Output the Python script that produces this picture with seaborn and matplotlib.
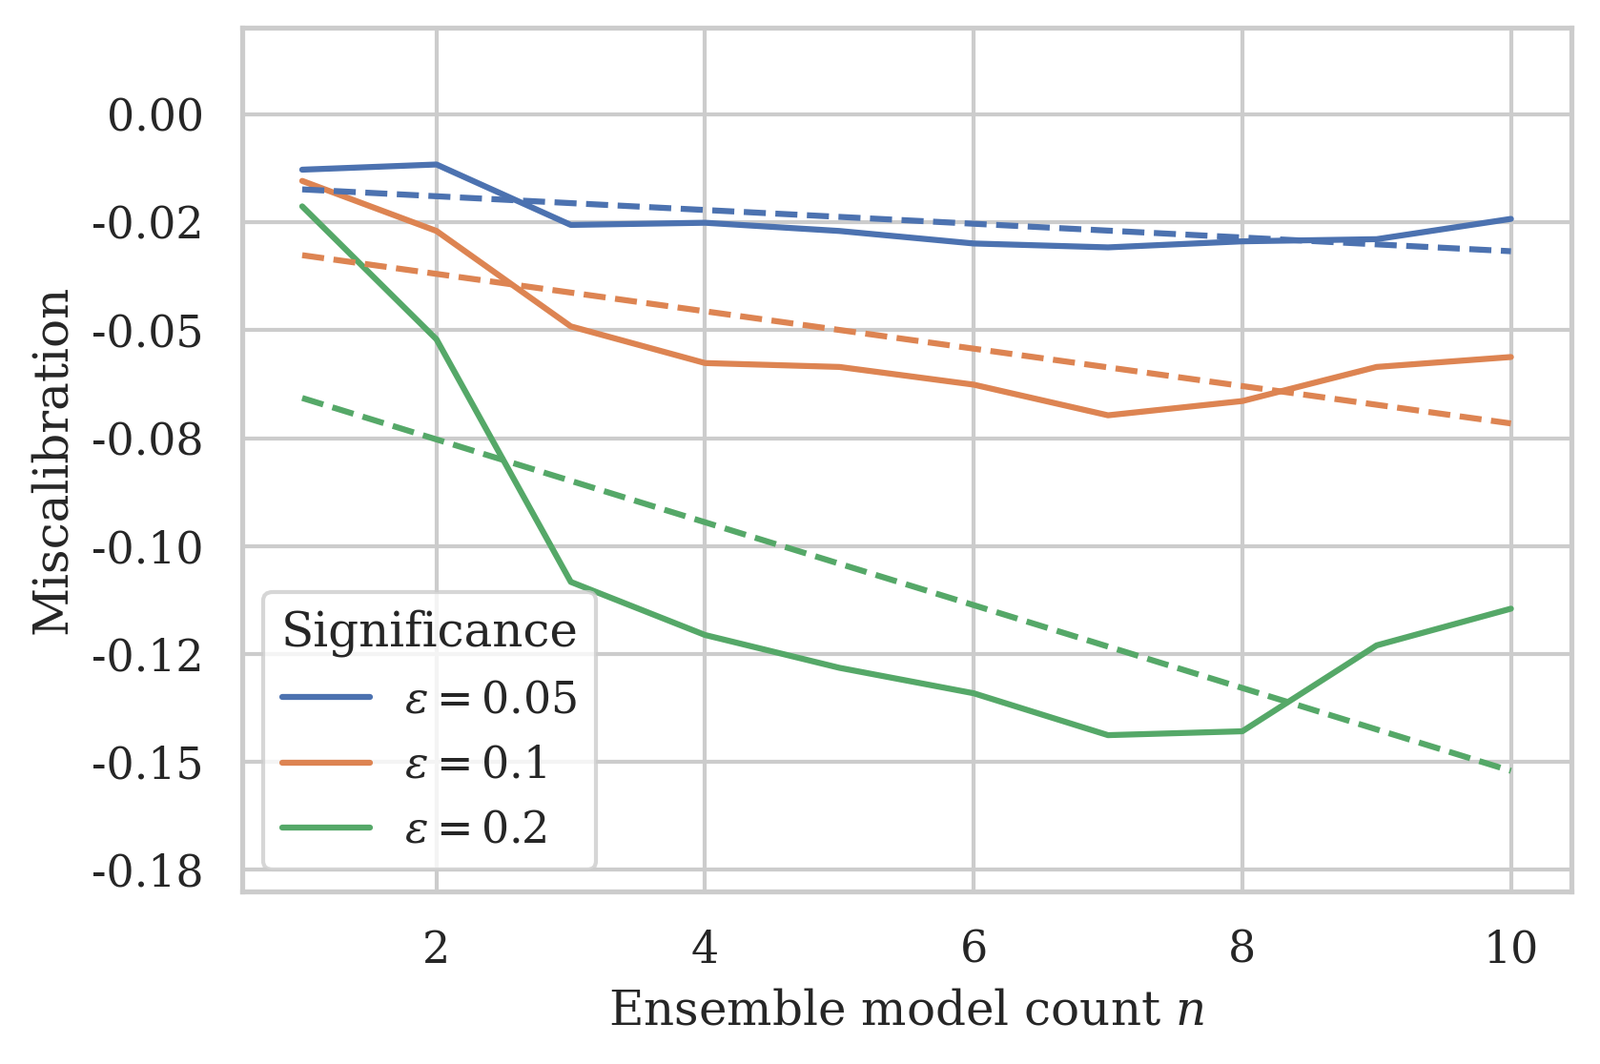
import numpy as np
import pandas as pd
import matplotlib
matplotlib.use('Agg')
import matplotlib.pyplot as plt
import seaborn as sns

# ── Data ──────────────────────────────────────────────────────────────────────
model_counts = [1, 2, 3, 4, 5, 6, 7, 8, 9, 10]
miscal_005 = [-0.0128, -0.0116, -0.0256, -0.0251, -0.0270, -0.0299, -0.0308, -0.0294, -0.0289, -0.0242]
miscal_010 = [-0.0154, -0.0270, -0.0491, -0.0576, -0.0585, -0.0626, -0.0697, -0.0664, -0.0585, -0.0562]
miscal_020 = [-0.0213, -0.0521, -0.1083, -0.1206, -0.1282, -0.1341, -0.1438, -0.1429, -0.1230, -0.1145]
sig_labels = [r'$\epsilon = 0.05$', r'$\epsilon = 0.1$', r'$\epsilon = 0.2$']

x_ticks = [2, 4, 6, 8, 10]
y_ticks = [0.0, -0.025, -0.05, -0.075, -0.1, -0.125, -0.15, -0.175]
y_tick_labels = ['0.00', '-0.02', '-0.05', '-0.08', '-0.10', '-0.12', '-0.15', '-0.18']

df = pd.DataFrame({
    'n': model_counts * 3,
    'Miscalibration': miscal_005 + miscal_010 + miscal_020,
    'Significance': [lab for lab in sig_labels for _ in model_counts],
})

# ── Style ─────────────────────────────────────────────────────────────────────
sns.set_theme(context='notebook', style='whitegrid')
plt.rcParams['font.family'] = ['DejaVu Serif']
plt.rcParams['mathtext.fontset'] = 'dejavuserif'
palette = sns.color_palette('deep', 3)

fig, ax = plt.subplots(figsize=(1678 / 300, 1116 / 300), dpi=300)
fig.subplots_adjust(left=0.1511, right=0.9821, top=0.9736, bottom=0.1622)

sns.lineplot(data=df, x='n', y='Miscalibration', hue='Significance',
             hue_order=sig_labels, palette=palette, ax=ax)

# linear trend per significance level
for lab, col in zip(sig_labels, palette):
    sub = df[df['Significance'] == lab]
    sns.regplot(data=sub, x='n', y='Miscalibration', scatter=False, ci=None,
                color=col, line_kws=dict(linestyle='--', lw=1.5), ax=ax)

ax.set_ylim(-0.18, 0.02)
ax.set_xticks(x_ticks)
ax.set_yticks(y_ticks)
ax.set_yticklabels(y_tick_labels)
ax.set_xlabel(r'Ensemble model count $n$')
ax.set_ylabel('Miscalibration')

ax.legend(title='Significance', loc='lower left')

fig.savefig('out.png', dpi=300)
